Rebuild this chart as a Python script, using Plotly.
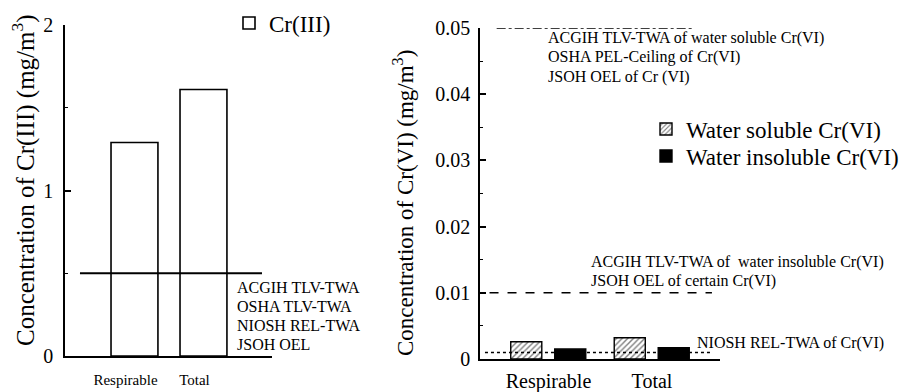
import plotly.graph_objects as go

# ---------------- data ----------------
categories = ["Respirable", "Total"]
cr3_values = [1.29, 1.61]                 # mg/m3
cr6_soluble = [0.0026, 0.0032]            # mg/m3
cr6_insoluble = [0.0015, 0.0017]          # mg/m3

cr3_limit = 0.5                           # ACGIH/OSHA/NIOSH/JSOH
cr6_limit_high = 0.05                     # ACGIH soluble, OSHA ceiling, JSOH
cr6_limit_mid = 0.01                      # ACGIH insoluble, JSOH certain
cr6_limit_low = 0.001                     # NIOSH REL-TWA

cr3_limit_labels = ["ACGIH TLV-TWA", "OSHA TLV-TWA", "NIOSH REL-TWA", "JSOH OEL"]
cr6_high_labels = ["ACGIH TLV-TWA of water soluble Cr(VI)", "OSHA PEL-Ceiling of Cr(VI)", "JSOH OEL of Cr (VI)"]
cr6_mid_labels = ["ACGIH TLV-TWA of  water insoluble Cr(VI)", "JSOH OEL of certain Cr(VI)"]
cr6_low_labels = ["NIOSH REL-TWA of Cr(VI)"]

FONT = "Liberation Serif"
W, H = 907, 392

def px_x(p):
    return p / W

def px_y(p):
    return 1 - p / H

def f(size):
    return dict(family=FONT, size=size, color="black")

fig = go.Figure()

fig.add_trace(go.Bar(
    x=categories, y=cr3_values, xaxis="x", yaxis="y",
    width=0.68, name="Cr(III)", legend="legend",
    marker=dict(color="white", line=dict(color="black", width=1.6)),
))
fig.add_trace(go.Bar(
    x=categories, y=cr6_soluble, xaxis="x2", yaxis="y2",
    offset=-0.365, width=0.30, name="Water soluble Cr(VI)", legend="legend2",
    marker=dict(color="white", line=dict(color="black", width=1.4),
                pattern=dict(shape="/", fgcolor="black", bgcolor="white", size=4, solidity=0.35)),
))
fig.add_trace(go.Bar(
    x=categories, y=cr6_insoluble, xaxis="x2", yaxis="y2",
    offset=0.06, width=0.30, name="Water insoluble Cr(VI)", legend="legend3",
    marker=dict(color="black", line=dict(color="black", width=1.4)),
))

axis_common = dict(showline=True, linecolor="black", linewidth=1.6, showgrid=False,
                   zeroline=False, automargin=False)

fig.update_layout(
    width=W, height=H, autosize=False,
    margin=dict(l=0, r=0, t=0, b=0, pad=0),
    paper_bgcolor="white", plot_bgcolor="white",
    barmode="overlay",
    font=f(16),
    xaxis=dict(domain=[px_x(65), px_x(272)], anchor="y", range=[-1.007, 1.993],
               type="category", ticks="", tickfont=f(15), ticklabelshift=-9,
               ticklabelstandoff=9, **axis_common),
    yaxis=dict(domain=[px_y(356), px_y(25)], anchor="x", range=[0, 2],
               tickmode="linear", tick0=0, dtick=1,
               ticks="inside", ticklen=6, tickwidth=1.5, tickcolor="black",
               minor=dict(tickmode="linear", tick0=0, dtick=0.5, ticks="inside", ticklen=3,
                          tickwidth=1.2, tickcolor="black"),
               tickfont=f(20), ticklabelstandoff=6, **axis_common),
    xaxis2=dict(domain=[px_x(480), px_x(720)], anchor="y2", range=[-0.662, 1.657],
                type="category", ticks="", tickfont=f(20), ticklabelstandoff=3,
                **axis_common),
    yaxis2=dict(domain=[px_y(359), px_y(28)], anchor="x2", range=[0, 0.05],
                tickmode="linear", tick0=0, dtick=0.01,
                ticks="inside", ticklen=6, tickwidth=1.5, tickcolor="black",
                minor=dict(tickmode="linear", tick0=0, dtick=0.005, ticks="inside", ticklen=3,
                           tickwidth=1.2, tickcolor="black"),
                tickfont=f(20), ticklabelstandoff=4, **axis_common),
    legend=dict(x=px_x(229), y=px_y(23), xanchor="left", yanchor="middle",
                font=f(23), bgcolor="rgba(0,0,0,0)"),
    legend2=dict(x=px_x(646), y=px_y(129), xanchor="left", yanchor="middle",
                 font=f(23), bgcolor="rgba(0,0,0,0)"),
    legend3=dict(x=px_x(646), y=px_y(156), xanchor="left", yanchor="middle",
                 font=f(23), bgcolor="rgba(0,0,0,0)"),
    showlegend=True,
)

# limit lines
fig.add_shape(type="line", xref="x", yref="y", x0=-0.79, x1=1.848, y0=cr3_limit, y1=cr3_limit,
              line=dict(color="black", width=2))
fig.add_shape(type="line", xref="x2", yref="y2", x0=-0.501, x1=1.393, y0=cr6_limit_high, y1=cr6_limit_high,
              line=dict(color="black", width=1.5, dash="dashdot"))
fig.add_shape(type="line", xref="x2", yref="y2", x0=-0.57, x1=1.579, y0=cr6_limit_mid, y1=cr6_limit_mid,
              line=dict(color="black", width=1.5, dash="dash"))
fig.add_shape(type="line", xref="x2", yref="y2", x0=-0.614, x1=1.579, y0=cr6_limit_low, y1=cr6_limit_low,
              line=dict(color="black", width=1.5, dash="dot"))

def label_block(lines, x_px, first_y_px, step_px):
    for i, t in enumerate(lines):
        fig.add_annotation(xref="paper", yref="paper", x=px_x(x_px), y=px_y(first_y_px + i * step_px),
                           xanchor="left", yanchor="middle", align="left", showarrow=False,
                           font=f(16), text=t)

label_block(cr3_limit_labels, 235, 287, 19)
label_block(cr6_high_labels, 546, 38, 19.5)
label_block(cr6_mid_labels, 589, 262, 18.5)
label_block(cr6_low_labels, 695, 343, 19)

# y-axis titles
fig.add_annotation(xref="paper", yref="paper", x=px_x(24), y=px_y(180), xanchor="center", yanchor="middle",
                   textangle=-90, showarrow=False, font=f(25),
                   text="Concentration of Cr(III) (mg/m<sup>3</sup>)")
fig.add_annotation(xref="paper", yref="paper", x=px_x(403), y=px_y(203), xanchor="center", yanchor="middle",
                   textangle=-90, showarrow=False, font=f(23),
                   text="Concentration of Cr(VI) (mg/m<sup>3</sup>)")

fig.write_html("out.html", config={"displayModeBar": False},
               post_script="document.body.style.margin='0px';")
